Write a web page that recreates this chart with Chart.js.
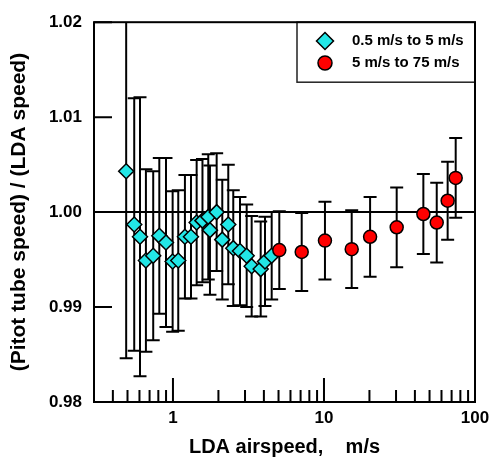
<!DOCTYPE html>
<html lang="en">
<head>
  <meta charset="UTF-8">
  <title>Pitot tube vs LDA</title>
  <script src="https://cdn.jsdelivr.net/npm/chart.js"></script>
  <style>
    html, body { margin: 0; padding: 0; background: #fff; }
  </style>
</head>
<body>
  <canvas id="pitotChart" width="490" height="462"></canvas>

  <script>
    // 0.5 m/s to 5 m/s series
    const lowSpeed = [0.49, 0.554, 0.605, 0.662, 0.740, 0.812, 0.899, 0.995, 1.084, 1.20, 1.316, 1.435, 1.568, 1.713, 1.758, 1.947, 2.121, 2.324, 2.508, 2.778, 3.077, 3.32, 3.81, 4.067, 4.505];
    const lowRatio = [1.0043, 0.9987, 0.9974, 0.9949, 0.9954, 0.9975, 0.9968, 0.9948, 0.9949, 0.9974, 0.9974, 0.9989, 0.9991, 0.9995, 0.9981, 1.0000, 0.9971, 0.9987, 0.9962, 0.9959, 0.9954, 0.9943, 0.9940, 0.9948, 0.9954];
    const lowErr = [0.0197, 0.0133, 0.0147, 0.0096, 0.0089, 0.0082, 0.0089, 0.0074, 0.0074, 0.0065, 0.0065, 0.0066, 0.0065, 0.0066, 0.0068, 0.0062, 0.0063, 0.0063, 0.0061, 0.0057, 0.0054, 0.0053, 0.0050, 0.0047, 0.0046];

    // 5 m/s to 75 m/s series
    const highSpeed = [5.06, 7.12, 10.15, 15.26, 20.2, 30.3, 45.5, 55.8, 65.9, 74.5];
    const highRatio = [0.9960, 0.9958, 0.9970, 0.9961, 0.9974, 0.9984, 0.9998, 0.9989, 1.0012, 1.0036];
    const highErr = [0.0041, 0.0041, 0.0041, 0.0041, 0.0042, 0.0042, 0.0042, 0.0042, 0.0041, 0.0042];

    // reference line at ratio = 1
    const refX = [0.3, 100];
    const refY = [1, 1];

    const yTicks = [0.98, 0.99, 1.00, 1.01, 1.02];
    const xMajor = [1, 10];
    const xMinor = [0.4, 0.5, 0.6, 0.7, 0.8, 0.9, 2, 3, 4, 5, 6, 7, 8, 9, 20, 30, 40, 50, 60, 70, 80, 90];
    const xLabels = [1, 10, 100];

    const legendItems = ['0.5 m/s to 5 m/s', '5 m/s to 75 m/s'];

    const FONT = "'Liberation Sans', Arial, sans-serif";
    const CYAN = '#22e6e6';
    const RED = '#ff0000';

    const toPoints = (xs, ys) => xs.map((x, i) => ({ x: x, y: ys[i] }));

    // error bars, drawn under the markers
    const errorBars = {
      id: 'errorBars',
      beforeDatasetsDraw(chart) {
        const { ctx, chartArea, scales: { x, y } } = chart;
        const sets = [[lowSpeed, lowRatio, lowErr], [highSpeed, highRatio, highErr]];
        ctx.save();
        ctx.beginPath();
        ctx.rect(chartArea.left, chartArea.top, chartArea.right - chartArea.left, chartArea.bottom - chartArea.top);
        ctx.clip();
        ctx.strokeStyle = '#000';
        ctx.lineWidth = 2;
        sets.forEach(([xs, ys, es]) => {
          xs.forEach((v, i) => {
            const px = x.getPixelForValue(v);
            const top = y.getPixelForValue(ys[i] + es[i]);
            const bot = y.getPixelForValue(ys[i] - es[i]);
            ctx.beginPath();
            ctx.moveTo(px, top);
            ctx.lineTo(px, bot);
            ctx.moveTo(px - 6.5, top);
            ctx.lineTo(px + 6.5, top);
            ctx.moveTo(px - 6.5, bot);
            ctx.lineTo(px + 6.5, bot);
            ctx.stroke();
          });
        });
        ctx.restore();
      }
    };

    // frame, inward ticks and legend box
    const frame = {
      id: 'frame',
      afterDraw(chart) {
        const { ctx, chartArea: a, scales: { x, y } } = chart;
        ctx.save();
        ctx.strokeStyle = '#000';
        ctx.lineWidth = 2;
        ctx.beginPath();
        yTicks.forEach(v => {
          const py = y.getPixelForValue(v);
          ctx.moveTo(a.left, py);
          ctx.lineTo(a.left + 18, py);
        });
        xMajor.forEach(v => {
          const px = x.getPixelForValue(v);
          ctx.moveTo(px, a.bottom);
          ctx.lineTo(px, a.bottom - 24);
        });
        xMinor.forEach(v => {
          const px = x.getPixelForValue(v);
          ctx.moveTo(px, a.bottom);
          ctx.lineTo(px, a.bottom - 12);
        });
        ctx.stroke();

        // legend
        const lx = 297, ly = a.top, lw = a.right - 297, lh = 60;
        ctx.fillStyle = '#fff';
        ctx.fillRect(lx, ly, lw, lh);
        ctx.lineWidth = 1.5;
        ctx.strokeStyle = '#222';
        ctx.strokeRect(lx, ly, lw, lh);

        ctx.lineWidth = 1.5;
        ctx.strokeStyle = '#000';
        // diamond
        ctx.fillStyle = CYAN;
        ctx.beginPath();
        ctx.moveTo(325 - 8.5, 41);
        ctx.lineTo(325, 41 - 8.5);
        ctx.lineTo(325 + 8.5, 41);
        ctx.lineTo(325, 41 + 8.5);
        ctx.closePath();
        ctx.fill();
        ctx.stroke();
        // circle
        ctx.fillStyle = RED;
        ctx.beginPath();
        ctx.arc(325, 63, 7, 0, Math.PI * 2);
        ctx.fill();
        ctx.stroke();

        ctx.fillStyle = '#000';
        ctx.font = 'bold 15px ' + FONT;
        ctx.textBaseline = 'middle';
        ctx.textAlign = 'left';
        ctx.fillText(legendItems[0], 352, 41);
        ctx.fillText(legendItems[1], 352, 63);

        // plot box
        ctx.lineWidth = 2;
        ctx.strokeStyle = '#000';
        ctx.strokeRect(a.left, a.top, a.right - a.left, a.bottom - a.top);
        ctx.restore();
      }
    };

    const ctx = document.getElementById('pitotChart').getContext('2d');

    new Chart(ctx, {
      type: 'scatter',
      data: {
        datasets: [
          {
            label: legendItems[1],
            data: toPoints(highSpeed, highRatio),
            pointStyle: 'circle',
            pointRadius: 6.5,
            pointBackgroundColor: RED,
            pointBorderColor: '#000',
            pointBorderWidth: 1.5,
            order: 0
          },
          {
            label: legendItems[0],
            data: toPoints(lowSpeed, lowRatio),
            pointStyle: 'rectRot',
            pointRadius: 7.5,
            pointBackgroundColor: CYAN,
            pointBorderColor: '#000',
            pointBorderWidth: 1.5,
            order: 1
          },
          {
            label: 'ref',
            data: toPoints(refX, refY),
            showLine: true,
            borderColor: '#000',
            borderWidth: 2,
            pointRadius: 0,
            order: 2
          }
        ]
      },
      options: {
        responsive: false,
        animation: false,
        events: [],
        layout: { padding: { left: 0, right: 15, top: 19, bottom: 0 } },
        plugins: {
          legend: { display: false },
          tooltip: { enabled: false }
        },
        scales: {
          x: {
            type: 'logarithmic',
            min: 0.3,
            max: 100,
            grid: { display: false, drawTicks: false },
            border: { display: false },
            afterFit: s => { s.height = 60; s.paddingLeft = 0; s.paddingRight = 0; },
            ticks: {
              autoSkip: false,
              maxRotation: 0,
              padding: 6,
              color: '#000',
              font: { family: FONT, size: 17, weight: 'bold' },
              callback: v => xLabels.includes(Math.round(v * 1000) / 1000) ? String(Math.round(v)) : ''
            },
            title: {
              display: true,
              text: 'LDA airspeed,    m/s',
              color: '#000',
              font: { family: FONT, size: 20, weight: 'bold' },
              padding: { top: 0, bottom: 3 }
            }
          },
          y: {
            min: 0.98,
            max: 1.02,
            grid: { display: false, drawTicks: false },
            border: { display: false },
            afterFit: s => { s.width = 94; },
            ticks: {
              stepSize: 0.01,
              padding: 12,
              color: '#000',
              font: { family: FONT, size: 17, weight: 'bold' },
              callback: v => v.toFixed(2)
            },
            title: {
              display: true,
              text: '(Pitot tube speed) / (LDA speed)',
              color: '#000',
              font: { family: FONT, size: 21, weight: 'bold' },
              padding: { top: 7, bottom: 0 }
            }
          }
        }
      },
      plugins: [errorBars, frame]
    });
  </script>
</body>
</html>
